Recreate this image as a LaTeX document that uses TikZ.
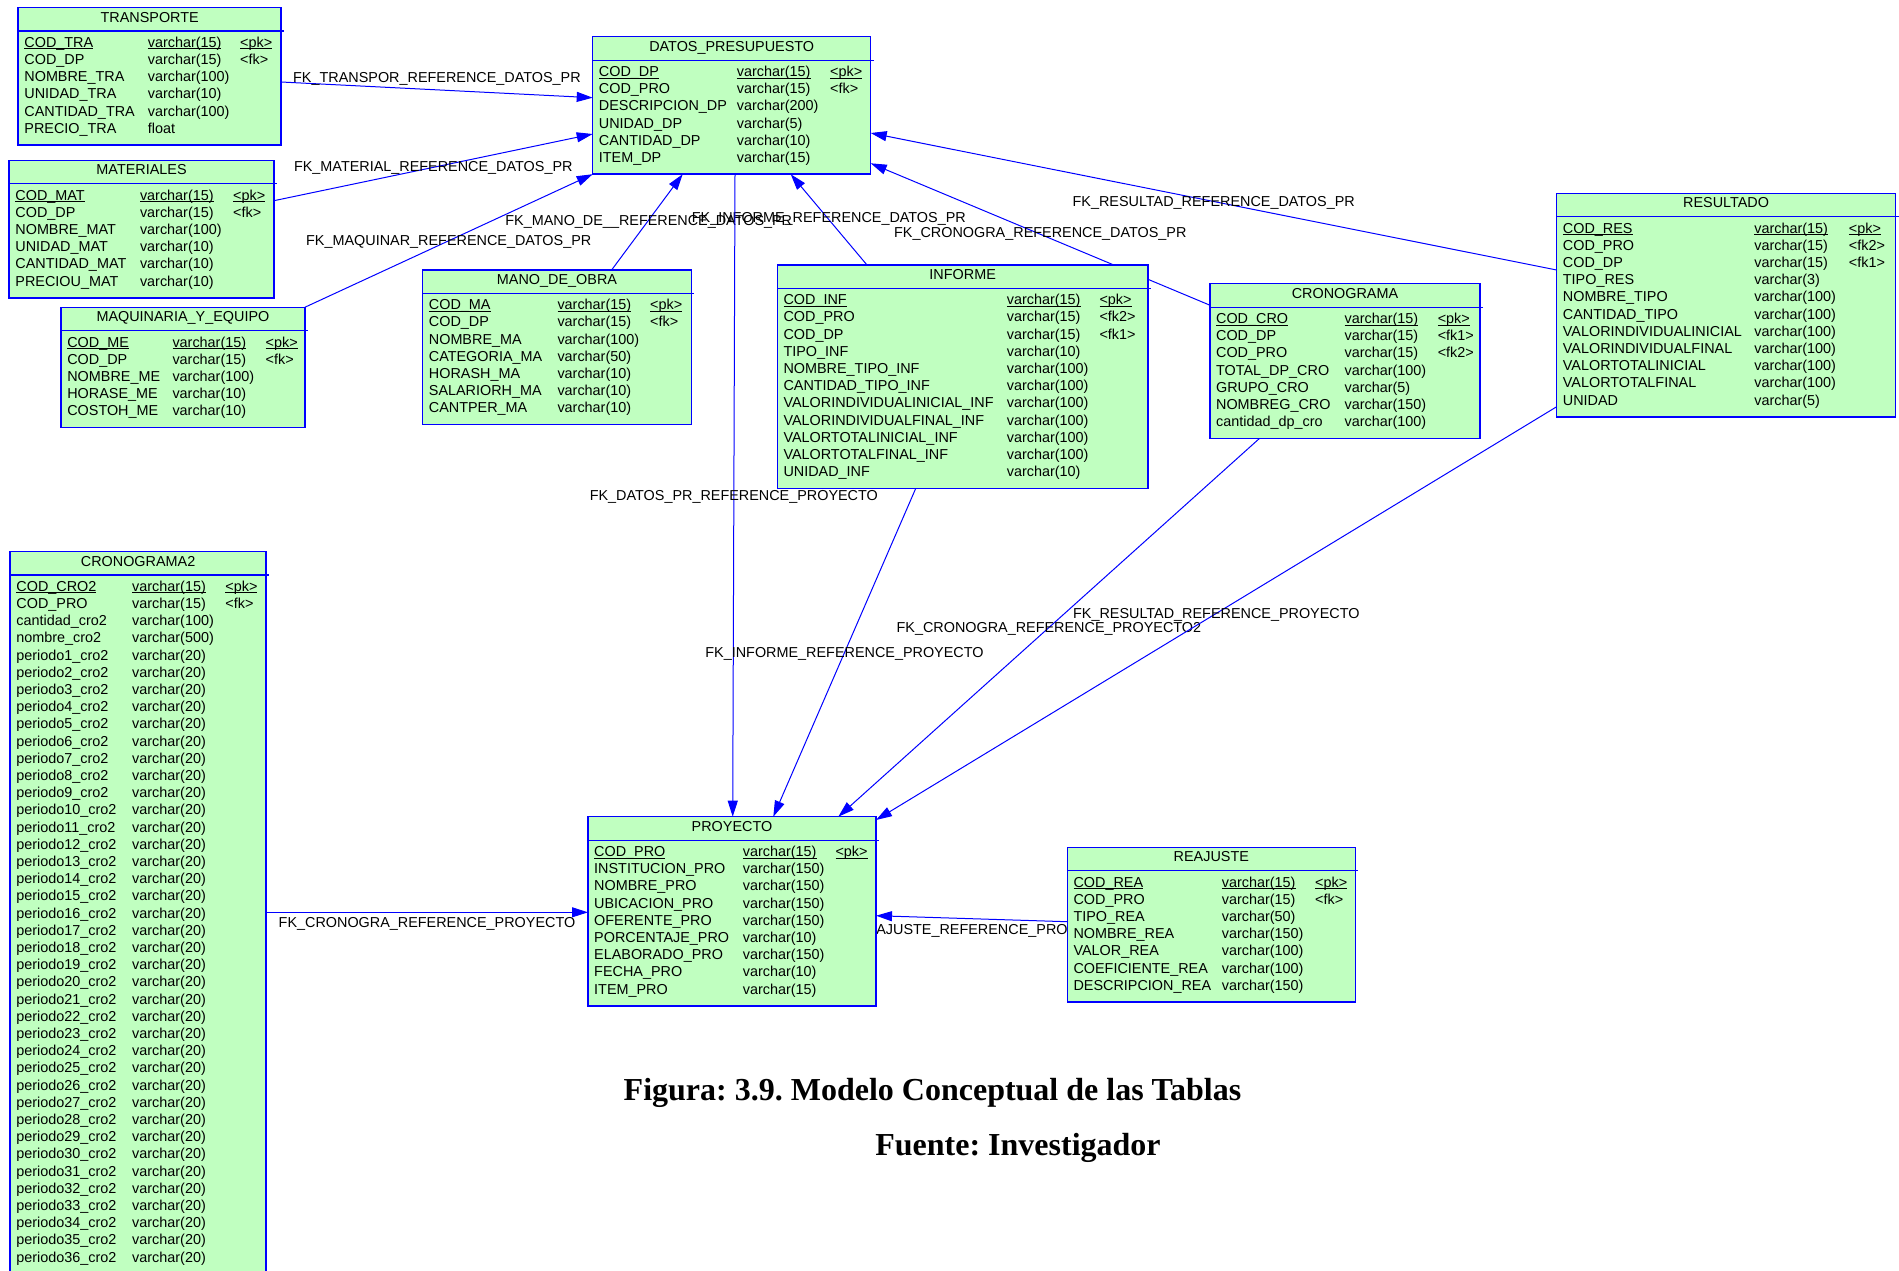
\documentclass[tikz,border=0pt]{standalone}
\usepackage{fontspec}
\setmainfont{Liberation Sans}
\newfontfamily\capserif{Liberation Serif}
\usetikzlibrary{calc,arrows.meta,backgrounds}

\definecolor{erblue}{RGB}{0,0,255}
\definecolor{ergreen}{RGB}{192,255,192}
\newcommand{\erfont}{\fontsize{14.4}{17.2}\selectfont}
\newcommand{\pk}[1]{\underline{\smash{#1}}}
\frenchspacing

\tikzset{
  tblbox/.style={draw=erblue, fill=ergreen, line width=1.5pt, anchor=north west, inner sep=0pt, outer sep=0pt},
  tbltitle/.style={anchor=base, inner sep=0pt, font=\erfont},
  fld/.style={anchor=base west, inner sep=0pt, font=\erfont},
  tblrule/.style={erblue, line width=1.2pt},
  fkline/.style={erblue, line width=1pt, -{Triangle[length=16pt,width=10pt]}},
  fklabel/.style={pos=0.5, inner sep=0pt, text=black, font=\erfont, text height=10.3pt, text depth=0pt},
  caption/.style={anchor=base, inner sep=0pt, font=\capserif\bfseries\fontsize{32}{38}\selectfont},
}

% rows of a table: id, type column, key column, list
\newcommand{\tblrows}[4]{%
  \foreach \fa/\fb/\fc [count=\i from 0] in {#4}{
    \node[fld] (#1-n\i) at ($(#1.north west)+(6,{39.7+17.2*\i})$) {\fa};
    \node[fld] (#1-t\i) at ($(#1.north west)+(#2,{39.7+17.2*\i})$) {\fb};
    \node[fld] (#1-k\i) at ($(#1.north west)+(#3,{39.7+17.2*\i})$) {\fc};
  }}

\begin{document}
\begin{tikzpicture}[x=1pt,y=-1pt]
    \useasboundingbox (0,0) rectangle (1899,1270);

    % TRANSPORTE
    \node[tblbox, minimum width=263pt, minimum height=137.5pt] (trans) at (18.2,7.5) {};
    \node[tbltitle] (trans-h) at ($(trans.north)+(0,14.6)$) {TRANSPORTE};
    \draw[tblrule] ($(trans.north west)+(0,23.5)$) -- ++(266,0);
    \tblrows{trans}{129.4}{221.8}{\pk{COD\_TRA}/\pk{varchar(15)}/\pk{<pk>}, COD\_DP/varchar(15)/<fk>, NOMBRE\_TRA/varchar(100)/{}, UNIDAD\_TRA/varchar(10)/{}, CANTIDAD\_TRA/varchar(100)/{}, PRECIO\_TRA/float/{}}

    % MATERIALES
    \node[tblbox, minimum width=264.7pt, minimum height=137.5pt] (mat) at (9.2,160.3) {};
    \node[tbltitle] (mat-h) at ($(mat.north)+(0,14.6)$) {MATERIALES};
    \draw[tblrule] ($(mat.north west)+(0,23.5)$) -- ++(267.7,0);
    \tblrows{mat}{130.6}{223.8}{\pk{COD\_MAT}/\pk{varchar(15)}/\pk{<pk>}, COD\_DP/varchar(15)/<fk>, NOMBRE\_MAT/varchar(100)/{}, UNIDAD\_MAT/varchar(10)/{}, CANTIDAD\_MAT/varchar(10)/{}, PRECIOU\_MAT/varchar(10)/{}}

    % MAQUINARIA_Y_EQUIPO
    \node[tblbox, minimum width=243.7pt, minimum height=120.3pt] (maq) at (61.1,307.3) {};
    \node[tbltitle] (maq-h) at ($(maq.north)+(0,14.6)$) {MAQUINARIA\_Y\_EQUIPO};
    \draw[tblrule] ($(maq.north west)+(0,23.5)$) -- ++(246.7,0);
    \tblrows{maq}{111.2}{204.4}{\pk{COD\_ME}/\pk{varchar(15)}/\pk{<pk>}, COD\_DP/varchar(15)/<fk>, NOMBRE\_ME/varchar(100)/{}, HORASE\_ME/varchar(10)/{}, COSTOH\_ME/varchar(10)/{}}

    % DATOS_PRESUPUESTO
    \node[tblbox, minimum width=278pt, minimum height=137.5pt] (datos) at (592.7,36.7) {};
    \node[tbltitle] (datos-h) at ($(datos.north)+(0,14.6)$) {DATOS\_PRESUPUESTO};
    \draw[tblrule] ($(datos.north west)+(0,23.5)$) -- ++(281,0);
    \tblrows{datos}{144}{237.3}{\pk{COD\_DP}/\pk{varchar(15)}/\pk{<pk>}, COD\_PRO/varchar(15)/<fk>, DESCRIPCION\_DP/varchar(200)/{}, UNIDAD\_DP/varchar(5)/{}, CANTIDAD\_DP/varchar(10)/{}, ITEM\_DP/varchar(15)/{}}

    % MANO_DE_OBRA
    \node[tblbox, minimum width=268.6pt, minimum height=154.7pt] (mano) at (422.7,270) {};
    \node[tbltitle] (mano-h) at ($(mano.north)+(0,14.6)$) {MANO\_DE\_OBRA};
    \draw[tblrule] ($(mano.north west)+(0,23.5)$) -- ++(271.6,0);
    \tblrows{mano}{134.6}{227.3}{\pk{COD\_MA}/\pk{varchar(15)}/\pk{<pk>}, COD\_DP/varchar(15)/<fk>, NOMBRE\_MA/varchar(100)/{}, CATEGORIA\_MA/varchar(50)/{}, HORASH\_MA/varchar(10)/{}, SALARIORH\_MA/varchar(10)/{}, CANTPER\_MA/varchar(10)/{}}

    % INFORME
    \node[tblbox, minimum width=370.7pt, minimum height=223.5pt] (inf) at (777.3,265) {};
    \node[tbltitle] (inf-h) at ($(inf.north)+(0,14.6)$) {INFORME};
    \draw[tblrule] ($(inf.north west)+(0,23.5)$) -- ++(373.7,0);
    \tblrows{inf}{229.4}{322}{\pk{COD\_INF}/\pk{varchar(15)}/\pk{<pk>}, COD\_PRO/varchar(15)/<fk2>, COD\_DP/varchar(15)/<fk1>, TIPO\_INF/varchar(10)/{}, NOMBRE\_TIPO\_INF/varchar(100)/{}, CANTIDAD\_TIPO\_INF/varchar(100)/{}, VALORINDIVIDUALINICIAL\_INF/varchar(100)/{}, VALORINDIVIDUALFINAL\_INF/varchar(100)/{}, VALORTOTALINICIAL\_INF/varchar(100)/{}, VALORTOTALFINAL\_INF/varchar(100)/{}, UNIDAD\_INF/varchar(10)/{}}

    % CRONOGRAMA
    \node[tblbox, minimum width=270.1pt, minimum height=154.7pt] (crono) at (1209.9,283.7) {};
    \node[tbltitle] (crono-h) at ($(crono.north)+(0,14.6)$) {CRONOGRAMA};
    \draw[tblrule] ($(crono.north west)+(0,23.5)$) -- ++(273.1,0);
    \tblrows{crono}{134.5}{227.7}{\pk{COD\_CRO}/\pk{varchar(15)}/\pk{<pk>}, COD\_DP/varchar(15)/<fk1>, COD\_PRO/varchar(15)/<fk2>, TOTAL\_DP\_CRO/varchar(100)/{}, GRUPO\_CRO/varchar(5)/{}, NOMBREG\_CRO/varchar(150)/{}, cantidad\_dp\_cro/varchar(100)/{}}

    % RESULTADO
    \node[tblbox, minimum width=338.8pt, minimum height=223.5pt] (res) at (1556.7,193.3) {};
    \node[tbltitle] (res-h) at ($(res.north)+(0,14.6)$) {RESULTADO};
    \draw[tblrule] ($(res.north west)+(0,23.5)$) -- ++(341.8,0);
    \tblrows{res}{197.5}{292}{\pk{COD\_RES}/\pk{varchar(15)}/\pk{<pk>}, COD\_PRO/varchar(15)/<fk2>, COD\_DP/varchar(15)/<fk1>, TIPO\_RES/varchar(3)/{}, NOMBRE\_TIPO/varchar(100)/{}, CANTIDAD\_TIPO/varchar(100)/{}, VALORINDIVIDUALINICIAL/varchar(100)/{}, VALORINDIVIDUALFINAL/varchar(100)/{}, VALORTOTALINICIAL/varchar(100)/{}, VALORTOTALFINAL/varchar(100)/{}, UNIDAD/varchar(5)/{}}

    % CRONOGRAMA2
    \node[tblbox, minimum width=255.8pt, minimum height=722.3pt] (cro2) at (10.2,551.5) {};
    \node[tbltitle] (cro2-h) at ($(cro2.north)+(0,14.6)$) {CRONOGRAMA2};
    \draw[tblrule] ($(cro2.north west)+(0,23.5)$) -- ++(258.8,0);
    \tblrows{cro2}{121.8}{215}{\pk{COD\_CRO2}/\pk{varchar(15)}/\pk{<pk>}, COD\_PRO/varchar(15)/<fk>, cantidad\_cro2/varchar(100)/{}, nombre\_cro2/varchar(500)/{}}
    \foreach \p in {1,...,36}{
        \node[fld] (cro2-p\p) at ($(cro2.north west)+(6,{39.7+17.2*(\p+3)})$) {periodo\p\_cro2};
        \node[fld] (cro2-v\p) at ($(cro2.north west)+(121.8,{39.7+17.2*(\p+3)})$) {varchar(20)};
    }

    % PROYECTO
    \node[tblbox, minimum width=288pt, minimum height=189.1pt] (proy) at (588,816.7) {};
    \node[tbltitle] (proy-h) at ($(proy.north)+(0,14.6)$) {PROYECTO};
    \draw[tblrule] ($(proy.north west)+(0,23.5)$) -- ++(291,0);
    \tblrows{proy}{154.7}{247.3}{\pk{COD\_PRO}/\pk{varchar(15)}/\pk{<pk>}, INSTITUCION\_PRO/varchar(150)/{}, NOMBRE\_PRO/varchar(150)/{}, UBICACION\_PRO/varchar(150)/{}, OFERENTE\_PRO/varchar(150)/{}, PORCENTAJE\_PRO/varchar(10)/{}, ELABORADO\_PRO/varchar(150)/{}, FECHA\_PRO/varchar(10)/{}, ITEM\_PRO/varchar(15)/{}}

    % REAJUSTE
    \node[tblbox, minimum width=288pt, minimum height=154.7pt] (reaj) at (1067.3,847.3) {};
    \node[tbltitle] (reaj-h) at ($(reaj.north)+(0,14.6)$) {REAJUSTE};
    \draw[tblrule] ($(reaj.north west)+(0,23.5)$) -- ++(291,0);
    \tblrows{reaj}{154.4}{247.7}{\pk{COD\_REA}/\pk{varchar(15)}/\pk{<pk>}, COD\_PRO/varchar(15)/<fk>, TIPO\_REA/varchar(50)/{}, NOMBRE\_REA/varchar(150)/{}, VALOR\_REA/varchar(100)/{}, COEFICIENTE\_REA/varchar(100)/{}, DESCRIPCION\_REA/varchar(150)/{}}

    % Caption
    \node[caption] (fig) at (932.5,1100.5) {Figura: 3.9. Modelo Conceptual de las Tablas};
    \node[caption] (src) at (1018,1155) {Fuente: Investigador};

    \begin{pgfonlayer}{background}
    \fill[white] (0,0) rectangle (1899,1270);
    % References to DATOS_PRESUPUESTO
    \draw[fkline] (trans.east |- 0,82) -- node[fklabel, yshift=12.6pt] (fk-tra) {FK\_TRANSPOR\_REFERENCE\_DATOS\_PR} (datos.west |- 0,97.7);
    \draw[fkline] (mat.east |- 0,200.7) -- node[fklabel, yshift=1.4pt] (fk-mat) {FK\_MATERIAL\_REFERENCE\_DATOS\_PR} (datos.west |- 0,134);
    \draw[fkline] (maq.north east) -- node[fklabel] (fk-maq) {FK\_MAQUINAR\_REFERENCE\_DATOS\_PR} (datos.south west);
    \draw[fkline] (611.6,0 |- mano.north) -- node[fklabel, xshift=1.6pt, yshift=1.3pt] (fk-mano) {FK\_MANO\_DE\_\_REFERENCE\_DATOS\_PR} (682.7,0 |- datos.south);
    \draw[fkline] (867,0 |- inf.north) -- node[fklabel, yshift=2.7pt] (fk-inf) {FK\_INFORME\_REFERENCE\_DATOS\_PR} (790.7,0 |- datos.south);
    \draw[fkline] (crono.west |- 0,305.2) -- node[fklabel, yshift=1.7pt] (fk-cro) {FK\_CRONOGRA\_REFERENCE\_DATOS\_PR} (datos.east |- 0,163.3);
    \draw[fkline] (res.west |- 0,270) -- node[fklabel] (fk-res) {FK\_RESULTAD\_REFERENCE\_DATOS\_PR} (datos.east |- 0,133);
    % References to PROYECTO
    \draw[fkline] (735,0 |- datos.south) -- node[fklabel] (fk-dp) {FK\_DATOS\_PR\_REFERENCE\_PROYECTO} (732.7,0 |- proy.north);
    \draw[fkline] (915.7,0 |- inf.south) -- node[fklabel] (fk-infp) {FK\_INFORME\_REFERENCE\_PROYECTO} (773.3,0 |- proy.north);
    \draw[fkline] (1259.5,0 |- crono.south) -- node[fklabel] (fk-crop) {FK\_CRONOGRA\_REFERENCE\_PROYECTO2} (838.3,0 |- proy.north);
    \draw[fkline] (res.west |- 0,406.7) -- node[fklabel] (fk-resp) {FK\_RESULTAD\_REFERENCE\_PROYECTO} (proy.east |- 0,820);
    \draw[fkline] (cro2.east |- 0,912.3) -- node[fklabel, yshift=-10.2pt] (fk-cro2) {FK\_CRONOGRA\_REFERENCE\_PROYECTO} (proy.west |- 0,912.3);
    \draw[fkline] (reaj.west |- 0,921.7) -- node[fklabel, xshift=1.8pt, yshift=-10.6pt] (fk-rea) {FK\_REAJUSTE\_REFERENCE\_PROYECTO} (proy.east |- 0,915.7);
    \end{pgfonlayer}
\end{tikzpicture}
\end{document}
